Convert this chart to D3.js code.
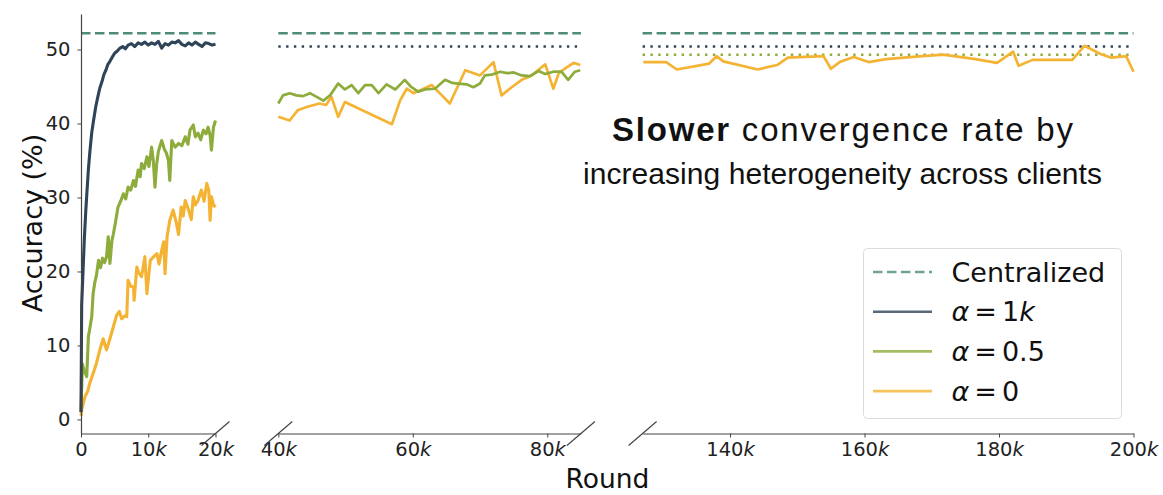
<!DOCTYPE html>
<html>
<head>
<meta charset="utf-8">
<script src="https://cdn.jsdelivr.net/npm/d3@7"></script>
<style>
body { margin: 0; background: #fff; }
svg { display: block; }
.tick text, .tick_label { font-family: "DejaVu Sans", sans-serif; fill: #222; }
</style>
</head>
<body>
<div id="main"></div>
<script>
// rounds are in thousands, accuracy in %
var rounds_1k = [0, 0.1, 0.3, 0.5, 0.7, 0.9, 1.1, 1.3, 1.6, 1.9, 2.2, 2.5, 2.8, 3.1, 3.4, 3.7, 4.0, 4.3, 4.6, 5.0,
	5.4, 5.8, 6.2, 6.6, 7.0, 7.5, 8.0, 8.5, 9.0, 9.5, 10.0, 10.5, 11.0, 11.5, 12.0, 12.5, 13.0, 13.5, 14.0, 14.5,
	15.0, 15.5, 16.0, 16.5, 17.0, 17.5, 18.0, 18.5, 19.0, 19.5, 20.0];
var acc_1k = [1.0, 15.5, 20.0, 24.5, 28.0, 31.0, 33.8, 36.0, 38.8, 40.6, 42.3, 43.6, 44.8, 45.6, 46.6, 47.2, 48.0, 48.4, 48.9, 49.5,
	49.8, 50.2, 50.4, 50.1, 50.6, 50.8, 50.4, 50.9, 50.7, 51.0, 50.6, 50.9, 50.7, 51.1, 50.2, 50.8, 50.6, 51.0, 50.9, 51.2,
	50.7, 50.5, 50.9, 50.6, 51.0, 50.7, 50.4, 50.9, 50.8, 50.6, 50.7];

var rounds_05 = [0, 0.2, 0.5, 0.85, 1.1, 1.35, 1.6, 1.8, 2.05, 2.3, 2.6, 2.9, 3.2, 3.5, 3.8, 4.05, 4.3, 4.6, 4.8, 5.1,
	5.5, 5.9, 6.3, 6.65, 7.0, 7.4, 7.8, 8.1, 8.5, 8.8, 9.0, 9.4, 9.8, 10.1, 10.5, 10.75, 11.0, 11.25, 11.5, 12.0,
	12.4, 12.7, 13.0, 13.2, 13.5, 14.0, 14.5, 15.0, 15.5, 15.9, 16.2, 16.7, 17.0, 17.4, 17.8, 18.2, 18.6, 18.9, 19.2, 19.4,
	19.7, 20.0,
	40, 40.7, 41.7, 42.7, 43.7, 44.7, 45.7, 46.7, 47.7, 48.9, 49.9, 50.9, 51.9, 52.9, 53.9, 54.9, 56.1, 57.4, 58.8, 59.8,
	60.8, 61.8, 63.3, 64.8, 65.8, 66.8, 68.0, 69.0, 70.0, 70.7, 71.7, 73.0, 74.0, 75.0, 76.2, 77.4, 78.7, 79.7, 80.9, 82.1,
	83.1, 84.1, 84.9];
var acc_05 = [1.0, 7.5, 6.5, 5.8, 11.2, 12.5, 13.9, 17.0, 18.5, 19.5, 21.5, 20.5, 21.8, 21.2, 22.0, 24.7, 21.1, 24.2, 25.0, 26.5,
	28.7, 29.5, 30.5, 29.8, 31.4, 31.0, 32.3, 31.5, 33.7, 32.8, 34.6, 33.9, 35.5, 34.2, 36.8, 35.0, 31.4, 34.5, 36.2, 37.7,
	36.5, 36.0, 35.0, 32.3, 37.7, 36.8, 37.3, 37.0, 38.2, 37.2, 39.1, 39.8, 38.2, 38.7, 37.8, 39.1, 38.6, 39.5, 38.4, 36.4,
	39.5, 40.4,
	42.7, 43.8, 44.1, 43.8, 43.7, 44.1, 43.6, 43.1, 43.8, 45.4, 44.6, 45.2, 44.1, 45.2, 45.2, 44.1, 45.3, 44.6, 45.9, 44.9,
	44.3, 44.6, 44.7, 45.9, 45.5, 45.4, 45.3, 44.9, 45.4, 46.5, 46.6, 47.0, 46.8, 46.9, 46.5, 46.4, 47.1, 46.7, 47.0, 47.0,
	45.9, 47.0, 47.2];

var rounds_0 = [0, 0.1, 0.6, 1.0, 1.3, 1.8, 2.3, 2.8, 3.3, 3.8, 4.3, 4.8, 5.3, 5.7, 6.05, 6.5, 6.8, 7.0, 7.4, 7.8,
	7.9, 8.3, 8.6, 9.0, 9.5, 9.8, 10.3, 10.8, 11.3, 11.6, 12.0, 12.3, 12.5, 12.8, 13.2, 13.7, 14.2, 14.5, 14.9, 15.2,
	15.5, 16.0, 16.4, 16.7, 17.0, 17.4, 17.9, 18.3, 18.7, 19.0, 19.2, 19.4, 19.7, 20.0,
	40, 41.7, 42.9, 44.1, 46.1, 47.1, 47.9, 48.9, 49.9, 56.9, 58.1, 59.1, 60.1, 61.6, 62.8, 64.0, 65.5, 67.8, 70.0, 72.0,
	73.2, 74.7, 76.2, 77.7, 79.7, 80.9, 81.7, 82.9, 83.9, 84.9,
	127.1, 130.5, 132.1, 136.9, 138.0, 139.0, 144.1, 147.0, 148.6, 153.9, 155.0, 156.3, 158.4, 160.6, 163.2, 168.6, 171.7, 176.5, 179.7, 182.1,
	182.9, 185.0, 190.9, 192.7, 195.1, 196.7, 198.9, 200];
var acc_0 = [0.5, 1.3, 3.1, 3.8, 4.9, 6.2, 7.6, 9.4, 10.9, 9.4, 10.9, 12.5, 14.1, 14.6, 13.6, 14.0, 13.9, 18.8, 18.0, 17.9,
	16.1, 20.6, 19.8, 19.3, 22.0, 17.0, 21.5, 22.0, 22.4, 21.0, 22.9, 24.0, 19.7, 24.7, 26.9, 28.3, 26.5, 25.0, 28.7, 27.5,
	29.6, 28.3, 27.0, 30.1, 29.0, 29.6, 31.0, 29.5, 31.9, 31.0, 26.9, 30.1, 29.0, 28.7,
	40.9, 40.4, 41.8, 42.2, 42.7, 42.5, 43.6, 40.9, 42.9, 39.9, 43.1, 44.7, 44.1, 44.7, 45.2, 44.1, 42.7, 47.2, 46.5, 48.3,
	43.8, 44.9, 45.9, 46.5, 48.0, 44.7, 46.8, 47.6, 48.2, 47.9,
	48.3, 48.3, 47.3, 48.1, 49.1, 48.4, 47.3, 47.9, 48.9, 49.1, 47.4, 48.3, 49.0, 48.3, 48.7, 49.1, 49.3, 48.7, 48.2, 49.7,
	47.8, 48.6, 48.6, 50.5, 49.4, 48.9, 49.1, 47.0];

var centralized_acc = 52.2;
var final_acc_1k = 50.4;
var final_acc_05 = 49.3;

var panel_domains = [[0, 20], [40, 85], [127, 200]];
var panel_ticks = [[0, 10, 20], [40, 60, 80], [140, 160, 180, 200]];
var y_ticks = [0, 10, 20, 30, 40, 50];
var legend_names = ["Centralized", "1k", "0.5", "0"];

var colors = { central: "#4e8b7a", a1k: "#2e4559", a05: "#8dac3c", a0: "#f4b332" };

var width = 1163, height = 495;
var px_per_k = 6.725;
var panel_left = [81, 278.3, 642.6];
var plot_top = 14, plot_bottom = 433.5;

var svg = d3.select("#main").append("svg").attr("width", width).attr("height", height);

var y = d3.scaleLinear().domain([-1.9, 54.8]).range([plot_bottom, plot_top]);

function make_x(i){
	var dom = panel_domains[i];
	return d3.scaleLinear().domain(dom)
		.range([panel_left[i], panel_left[i] + (dom[1] - dom[0]) * px_per_k]);
}

function series_points(rounds, acc, dom){
	var pts = [];
	rounds.forEach(function(r, j){
		if (r >= dom[0] && r <= dom[1]) pts.push([r, acc[j]]);
	});
	return pts;
}

function k_label(sel, d){
	sel.text(null);
	if (d == 0) { sel.text("0"); return; }
	sel.append("tspan").text(d);
	sel.append("tspan").attr("font-style", "italic").text("k");
}

function draw_hline(g, x, value, color, dash){
	g.append("line")
		.attr("x1", x.range()[0]).attr("x2", x.range()[1])
		.attr("y1", y(value)).attr("y2", y(value))
		.attr("stroke", color).attr("stroke-width", 2.6)
		.attr("stroke-dasharray", dash);
}

function draw_break(g, cx){
	g.append("line")
		.attr("x1", cx - 14).attr("y1", plot_bottom + 12)
		.attr("x2", cx + 14).attr("y2", plot_bottom - 12)
		.attr("stroke", "#444").attr("stroke-width", 1.2);
}

var line = d3.line();
var series = [
	{rounds: rounds_0, acc: acc_0, color: colors.a0},
	{rounds: rounds_05, acc: acc_05, color: colors.a05},
	{rounds: rounds_1k, acc: acc_1k, color: colors.a1k}
];

panel_domains.forEach(function(dom, i){
	var x = make_x(i);
	var g = svg.append("g").attr("class", "panel");

	// reference levels
	draw_hline(g, x, centralized_acc, colors.central, "9.5,4.5");
	if (i >= 1) draw_hline(g, x, final_acc_1k, colors.a1k, "2.4,5.4");
	if (i == 2) draw_hline(g, x, final_acc_05, colors.a05, "2.4,5.4");

	series.forEach(function(s){
		var pts = series_points(s.rounds, s.acc, dom);
		if (pts.length < 2) return;
		line.x(function(d){ return x(d[0]); }).y(function(d){ return y(d[1]); });
		g.append("path").attr("d", line(pts))
			.attr("fill", "none").attr("stroke", s.color)
			.attr("stroke-width", i == 0 ? 3.1 : 2.7).attr("stroke-linejoin", "round");
	});

	var x_axis = g.append("g").attr("transform", "translate(0," + plot_bottom + ")")
		.call(d3.axisBottom(x).tickValues(panel_ticks[i]).tickSize(4).tickSizeOuter(0).tickPadding(5));
	x_axis.select(".domain").attr("stroke", "#444").attr("stroke-width", 1.2);
	x_axis.selectAll(".tick line").attr("stroke", "#444");
	x_axis.selectAll(".tick text").attr("font-size", 19.5)
		.each(function(d){ k_label(d3.select(this), d); });

	if (i == 0) {
		var y_axis = g.append("g").attr("transform", "translate(" + x.range()[0] + ",0)")
			.call(d3.axisLeft(y).tickValues(y_ticks).tickSize(3.5).tickSizeOuter(0).tickPadding(7));
		y_axis.select(".domain").attr("stroke", "#444").attr("stroke-width", 1.2);
		y_axis.selectAll(".tick line").attr("stroke", "#444");
		y_axis.selectAll(".tick text").attr("font-size", 19.5);
	}
	if (i > 0) draw_break(g, x.range()[0]);
	if (i < panel_domains.length - 1) draw_break(g, x.range()[1]);
});

// axis titles
svg.append("text").attr("transform", "translate(42,223) rotate(-90)")
	.attr("text-anchor", "middle").attr("font-family", "DejaVu Sans").attr("font-size", 27)
	.attr("fill", "#111").text("Accuracy (%)");
svg.append("text").attr("x", 607.5).attr("y", 487.5)
	.attr("text-anchor", "middle").attr("font-family", "DejaVu Sans").attr("font-size", 26.5)
	.attr("fill", "#111").text("Round");

// annotation, fitted to the widths seen in the figure
var note = svg.append("g").attr("font-family", "'Liberation Sans', Arial, sans-serif").attr("fill", "#111");
var l1 = note.append("text").attr("x", 612).attr("y", 141).attr("font-size", 33)
	.attr("textLength", 461).attr("lengthAdjust", "spacing");
l1.append("tspan").attr("font-weight", "bold").text("Slower");
l1.append("tspan").text(" convergence rate by");
note.append("text").attr("x", 583).attr("y", 184).attr("font-size", 30)
	.attr("textLength", 519).attr("lengthAdjust", "spacing")
	.text("increasing heterogeneity across clients");

// legend
var legend = svg.append("g").attr("class", "legend");
legend.append("rect").attr("x", 863.5).attr("y", 248.5).attr("width", 258).attr("height", 170)
	.attr("rx", 4).attr("fill", "#fff").attr("fill-opacity", 0.85)
	.attr("stroke", "#dcdcdc").attr("stroke-width", 1);
var legend_colors = [colors.central, colors.a1k, colors.a05, colors.a0];
legend_names.forEach(function(name, i){
	var base = 281.5 + i * 39.7;
	legend.append("line").attr("x1", 873).attr("x2", 932)
		.attr("y1", base - 9.5).attr("y2", base - 9.5)
		.attr("stroke", legend_colors[i]).attr("stroke-width", 2.6).attr("stroke-opacity", 0.8)
		.attr("stroke-dasharray", i == 0 ? "9.5,4.5" : null);
	var t = legend.append("text").attr("x", 951.5).attr("y", base)
		.attr("font-family", "DejaVu Sans").attr("font-size", 27).attr("fill", "#111");
	if (i == 0) { t.text(name); return; }
	t.append("tspan").attr("font-style", "italic").text("\u03b1");
	t.append("tspan").attr("dx", 5).text("=");
	t.append("tspan").attr("dx", 5).text(name.replace("k", ""));
	if (name.indexOf("k") >= 0) t.append("tspan").attr("font-style", "italic").text("k");
});
</script>
</body>
</html>
